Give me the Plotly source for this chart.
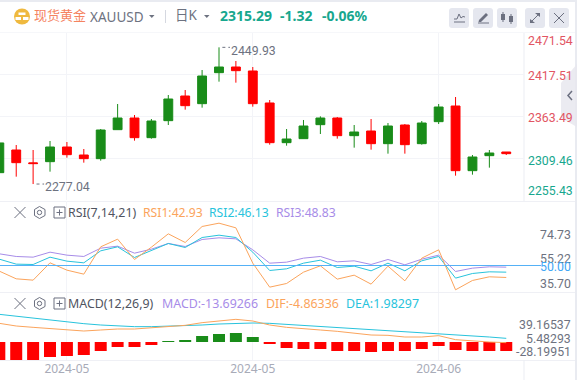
import plotly.graph_objects as go

W, H = 577, 380

# ---- data ----
idx = list(range(31))
opens = [2329.0, 2304.06, 2302.8, 2323.88, 2314.18, 2309.12, 2345.38, 2360.55, 2335.68, 2356.76, 2384.58, 2376.15,
         2413.67, 2425.05, 2420.42, 2378.68, 2329.35, 2333.99, 2350.44, 2360.55, 2338.21, 2342.85, 2328.09, 2350.44,
         2326.83, 2354.23, 2374.46, 2293.95, 2311.23, 2316.29, 2315.45]
closes = [2291.42, 2320.08, 2303.64, 2305.33, 2323.88, 2313.76, 2309.12, 2345.8, 2360.55, 2335.68, 2357.18, 2388.38,
          2378.68, 2417.89, 2425.05, 2420.0, 2379.53, 2329.35, 2334.41, 2352.12, 2360.55, 2338.21, 2344.11, 2328.09,
          2351.7, 2328.09, 2355.92, 2375.73, 2293.95, 2312.92, 2317.55]
highs = [2329.0, 2326.4, 2320.08, 2331.46, 2330.2, 2321.35, 2346.64, 2378.26, 2364.35, 2359.29, 2389.64, 2395.97,
         2421.26, 2449.93, 2432.64, 2425.05, 2383.32, 2346.64, 2358.03, 2362.66, 2361.82, 2351.7, 2359.29, 2354.23,
         2352.97, 2356.76, 2378.26, 2387.11, 2313.76, 2320.08, 2317.55]
lows = [2291.42, 2286.36, 2277.04, 2292.69, 2310.39, 2304.06, 2306.59, 2345.8, 2331.88, 2334.41, 2351.7, 2371.09,
        2373.62, 2406.5, 2405.24, 2374.89, 2326.83, 2325.56, 2333.99, 2340.32, 2334.41, 2323.03, 2320.5, 2315.45,
        2315.45, 2326.83, 2352.97, 2287.62, 2288.89, 2297.74, 2313.76]

rsi1 = [45.45, 39.29, 38.22, 52.14, 46.25, 43.04, 64.99, 71.15, 54.82, 64.72, 75.43, 68.47, 81.32, 83.99, 80.25, 51.87,
        32.6, 35.54, 44.64, 49.73, 39.02, 42.23, 35.01, 49.46, 37.68, 55.89, 62.58, 30.46, 37.95, 40.9, 40.36]
rsi2 = [55.08, 51.07, 50.8, 56.69, 53.48, 52.14, 61.78, 64.99, 56.42, 61.78, 67.67, 64.45, 72.48, 74.36, 72.48, 60.7,
        45.98, 47.32, 51.87, 54.28, 48.39, 49.46, 45.71, 51.87, 45.71, 53.75, 57.23, 39.83, 43.57, 44.91, 44.64]
rsi3 = [59.37, 57.23, 56.69, 60.7, 58.3, 57.23, 63.92, 65.52, 59.9, 63.11, 67.67, 65.25, 70.88, 72.22, 71.41, 62.58,
        51.87, 52.67, 55.89, 57.23, 52.94, 53.75, 50.8, 54.82, 50.53, 55.08, 58.3, 45.18, 47.86, 48.93, 48.66]

macd = [-45.9, -45.9, -45.9, -38.25, -35.7, -33.15, -22.95, -12.75, -12.75, -7.65, 2.0, 5.1, 15.3, 20.4, 22.95, 12.75,
        -5.1, -15.3, -17.85, -17.85, -22.95, -22.95, -25.5, -22.95, -22.95, -17.85, -10.2, -20.4, -22.95, -22.95, -22.95]
dif = [47.6, 40.8, 37.4, 34.85, 32.3, 28.05, 30.6, 33.15, 33.15, 35.7, 39.95, 42.5, 49.3, 54.4, 57.8, 53.55, 43.35,
       37.4, 33.15, 30.6, 27.2, 22.95, 17.85, 17.0, 12.75, 12.75, 16.15, 5.95, 2.55, 0.0, -1.7]
dea = [70.55, 65.45, 61.2, 56.1, 51.0, 46.75, 43.35, 40.8, 39.1, 39.1, 39.95, 40.8, 43.35, 45.9, 47.6, 48.45, 47.6,
       45.05, 41.65, 39.1, 35.7, 33.15, 30.6, 28.05, 25.5, 23.8, 22.1, 18.7, 15.3, 12.75, 9.35]

date_ticks = [4, 15, 26]
date_labels = ["2024-05", "2024-05", "2024-06"]
price_grid = [2415.3, 2362.7, 2309.6]
price_labels = ["2471.54", "2417.51", "2363.49", "2309.46", "2255.43"]
rsi_labels = ["74.73", "55.22", "35.70"]
macd_labels = ["39.16537", "5.48293", "-28.19951"]

# ---- colours ----
RED, GREEN = "#ff0000", "#198c19"
ORANGE, CYAN, PURPLE, BLUE = "#fba45c", "#28c3dc", "#a78ce8", "#55b1f6"
GRID = "#f3f4f8"
EDGE = "#e9ebf1"
TXT = "#6d7280"
UPTXT, DNTXT = "#e25563", "#17a78e"
ICON = "#6c7080"
FONT = "'Noto Sans', 'Noto Sans CJK SC', sans-serif"
NUMFONT = "Roboto, sans-serif"

px = lambda x: x / W
py = lambda y: 1 - y / H

fig = go.Figure()
fig.add_trace(go.Candlestick(
    x=idx, open=opens, high=highs, low=lows, close=closes, xaxis="x", yaxis="y",
    increasing=dict(line=dict(color=RED, width=1), fillcolor=RED),
    decreasing=dict(line=dict(color=GREEN, width=1), fillcolor=GREEN),
    whiskerwidth=0, showlegend=False))

for vals, col in ((rsi3, PURPLE), (rsi2, CYAN), (rsi1, ORANGE)):
    fig.add_trace(go.Scatter(x=idx, y=vals, mode="lines", xaxis="x", yaxis="y2",
                             line=dict(color=col, width=1), showlegend=False))

fig.add_trace(go.Bar(x=idx, y=macd, xaxis="x", yaxis="y3", showlegend=False,
                     marker=dict(color=[GREEN if v > 0 else RED for v in macd], line=dict(width=0))))
for vals, col in ((dea, CYAN), (dif, ORANGE)):
    fig.add_trace(go.Scatter(x=idx, y=vals, mode="lines", xaxis="x", yaxis="y3",
                             line=dict(color=col, width=1), showlegend=False))

annots, shapes = [], []


def text(x, y, s, color=TXT, size=12, anchor="left", bold=False, family=FONT):
    annots.append(dict(x=px(x), y=py(y), xref="paper", yref="paper", text=f"<b>{s}</b>" if bold else s,
                       showarrow=False, xanchor=anchor, yanchor="middle", borderpad=0, borderwidth=0,
                       font=dict(family=family, size=size, color=color)))


def rect(x0, y0, x1, y1, color, layer="below"):
    shapes.append(dict(type="rect", xref="paper", yref="paper", x0=px(x0), x1=px(x1), y0=py(y0), y1=py(y1),
                       fillcolor=color, line=dict(width=0), layer=layer))


def poly(points, fill=None, line=None, width=1, close=True, layer="above"):
    d = ""
    for i, (x, y) in enumerate(points):
        d += ("M" if i == 0 else "L") + f"{px(x):.5f},{py(y):.5f} "
    if close:
        d += "Z"
    shapes.append(dict(type="path", xref="paper", yref="paper", path=d, fillcolor=fill if fill else "rgba(0,0,0,0)",
                       line=dict(color=line if line else "rgba(0,0,0,0)", width=width if line else 0), layer=layer))


def circle(cx, cy, r, fill=None, line=None, width=1):
    shapes.append(dict(type="circle", xref="paper", yref="paper", x0=px(cx - r), x1=px(cx + r), y0=py(cy - r),
                       y1=py(cy + r), fillcolor=fill if fill else "rgba(0,0,0,0)",
                       line=dict(color=line if line else "rgba(0,0,0,0)", width=width if line else 0), layer="above"))


def rounded(x0, y0, x1, y1, r, color):
    d = (f"M{px(x0 + r):.5f},{py(y0):.5f} L{px(x1 - r):.5f},{py(y0):.5f} Q{px(x1):.5f},{py(y0):.5f} {px(x1):.5f},{py(y0 + r):.5f} "
         f"L{px(x1):.5f},{py(y1 - r):.5f} Q{px(x1):.5f},{py(y1):.5f} {px(x1 - r):.5f},{py(y1):.5f} "
         f"L{px(x0 + r):.5f},{py(y1):.5f} Q{px(x0):.5f},{py(y1):.5f} {px(x0):.5f},{py(y1 - r):.5f} "
         f"L{px(x0):.5f},{py(y0 + r):.5f} Q{px(x0):.5f},{py(y0):.5f} {px(x0 + r):.5f},{py(y0):.5f} Z")
    shapes.append(dict(type="path", xref="paper", yref="paper", path=d, fillcolor=color, line=dict(width=0), layer="above"))


# frame
rect(0, 0, W, 2, EDGE)
rect(575, 0, W, H, EDGE)
rect(0, 32, 575, 33, "#f6f7fa")
for y in (201, 292, 360):
    rect(0, y, 575, y + 1, "#eff0f5")
rect(523.5, 33, 524.5, 201, "#eceef3")
rect(523.5, 360, 524.5, 380, "#eceef3")

# header
circle(22, 16.5, 8, fill="#efb93f")
poly([(18.5, 12.5), (25.5, 12.5), (25.5, 15), (18.5, 15)], fill="#ffffff")
poly([(15.5, 17), (21, 17), (21, 20), (15.5, 20)], fill="#ffffff")
poly([(23, 17), (28.5, 17), (28.5, 20), (23, 20)], fill="#ffffff")
text(34, 15.5, "现货黄金", color="#f5835f", size=13)
text(90, 17, "XAUUSD", color=TXT, size=13.5)
poly([(149, 15), (154.5, 15), (151.8, 18)], fill=TXT)
rect(165, 10, 166, 23, "#d5d8e0")
text(175, 15.5, "日K", color=TXT, size=13.5)
poly([(204, 15), (209.5, 15), (206.8, 18)], fill=TXT)
text(219.5, 15.5, "2315.29", color=DNTXT, size=14, bold=True)
text(279.5, 15.5, "-1.32", color=DNTXT, size=14, bold=True)
text(321.5, 15.5, "-0.06%", color=DNTXT, size=14, bold=True)

# header buttons
for x0 in (449, 473, 497, 525, 549):
    rounded(x0, 8, x0 + 20, 28, 3, "#e5e7ef")
poly([(454, 19), (457, 19), (459, 14), (461, 18), (463, 16.5), (465, 17)], line=ICON, close=False)
rect(454, 21.5, 465, 22.5, ICON, layer="above")
poly([(479, 20), (486, 13), (488, 15), (481, 22), (478.5, 22)], fill=ICON)
rect(478, 22.5, 489, 23.5, ICON, layer="above")
poly([(503, 12), (503, 22)], line=ICON, close=False)
rect(501, 14, 505, 20, ICON, layer="above")
poly([(511, 14), (511, 24)], line=ICON, close=False)
rect(509, 16, 513, 22, ICON, layer="above")
poly([(531, 22), (539, 14)], line=ICON, close=False)
poly([(535, 13), (540, 13), (540, 17)], fill=ICON)
poly([(530, 19), (530, 23), (535, 23)], fill=ICON)
poly([(554, 13), (564, 23)], line=ICON, close=False)
poly([(564, 13), (554, 23)], line=ICON, close=False)

# right collapse tab
poly([(561, 83), (577, 64), (577, 127), (561, 118)], fill="rgba(232,232,238,0.85)")
poly([(572, 91), (568, 95.5), (572, 100)], line=ICON, width=1.5, close=False)

# price labels
for lab, y, col in zip(price_labels, (41, 75.5, 118, 161, 191.5), (UPTXT, UPTXT, UPTXT, DNTXT, DNTXT)):
    text(527.5, y, lab, color=col, family=NUMFONT, size=12.3)

# high / low marks
shapes.append(dict(type="line", xref="x", yref="y", x0=13.2, x1=13.65, y0=2449.93, y1=2449.93,
                   line=dict(color=TXT, width=1, dash="dot")))
shapes.append(dict(type="line", xref="x", yref="y", x0=2.2, x1=2.65, y0=2277.04, y1=2277.04,
                   line=dict(color=TXT, width=1, dash="dot")))
text(231, 50.5, "2449.93", family=NUMFONT, size=12.3)
text(45, 186.5, "2277.04", family=NUMFONT, size=12.3)

# panel tool icons
for cy in (212.5, 303.5):
    poly([(14.5, cy - 5.5), (25.5, cy + 5.5)], line=ICON, close=False)
    poly([(25.5, cy - 5.5), (14.5, cy + 5.5)], line=ICON, close=False)
    poly([(39.5, cy - 6), (45, cy - 3), (45, cy + 3), (39.5, cy + 6), (34.5, cy + 3), (34.5, cy - 3)], line=ICON)
    circle(39.5, cy, 2.2, line=ICON)
    poly([(54, cy - 5.5), (65, cy - 5.5), (65, cy + 5.5), (54, cy + 5.5)], line=ICON)
    poly([(59.5, cy - 3), (59.5, cy + 3)], line=ICON, close=False)
    poly([(56.5, cy), (62.5, cy)], line=ICON, close=False)

# RSI header
text(68, 212.5, "RSI(7,14,21)", color="#50545f", size=12.4)
text(142.5, 212.5, "RSI1:42.93", color=ORANGE, size=12.2)
text(209, 212.5, "RSI2:46.13", color=CYAN, size=12.2)
text(275.5, 212.5, "RSI3:48.83", color=PURPLE, size=12.2)
shapes.append(dict(type="line", xref="paper", yref="y2", x0=0, x1=px(541), y0=50, y1=50,
                   line=dict(color=BLUE, width=1.2)))
for lab, y in zip(rsi_labels, (234.7, 258.5, 283.5)):
    text(571, y, lab, anchor="right", family=NUMFONT, size=12.3)
text(571, 266.7, "50.00", color="#3fa6f5", anchor="right", family=NUMFONT, size=12.3)

# MACD header
text(68, 303.7, "MACD(12,26,9)", color="#50545f", size=12.4)
text(161.5, 303.7, "MACD:-13.69266", color=PURPLE, size=12.4)
text(266, 303.7, "DIF:-4.86336", color=ORANGE, size=12.4)
text(345.5, 303.7, "DEA:1.98297", color=CYAN, size=12.4)
for lab, y in zip(macd_labels, (325.3, 338.7, 351.7)):
    text(571, y, lab, anchor="right", family=NUMFONT, size=12.3)

fig.update_layout(
    width=W, height=H, margin=dict(l=0, r=0, t=0, b=0), autosize=False,
    paper_bgcolor="#ffffff", plot_bgcolor="#ffffff", boxgap=0.25, bargap=0.29, showlegend=False,
    font=dict(family=FONT, size=12, color=TXT),
    annotations=annots, shapes=shapes,
    xaxis=dict(domain=[0, 524 / W], range=[0.04, 31.05], anchor="y3", tickmode="array", tickvals=date_ticks,
               ticktext=date_labels, showgrid=True, gridcolor=GRID, gridwidth=1, zeroline=False, showline=False,
               ticks="", tickfont=dict(color="#a8abb8", size=12), rangeslider=dict(visible=False), fixedrange=True),
    yaxis=dict(domain=[py(200), py(33)], range=[2256.85, 2468.05], anchor="x", side="right", tickmode="array",
               tickvals=price_grid, showticklabels=False, showgrid=True, gridcolor=GRID, zeroline=False,
               showline=False, ticks=""),
    yaxis2=dict(domain=[py(292), py(201)], range=[28.7, 101.8], anchor="x", showticklabels=False, showgrid=False,
                zeroline=False, showline=False, ticks=""),
    yaxis3=dict(domain=[py(360), py(293)], range=[-45.9, 124.95], anchor="x", showticklabels=False, showgrid=False,
                zeroline=False, showline=False, ticks=""),
)

fig.write_html("out.html", config=dict(displayModeBar=False),
               post_script="document.body.style.margin='0';window.dispatchEvent(new Event('resize'));")
